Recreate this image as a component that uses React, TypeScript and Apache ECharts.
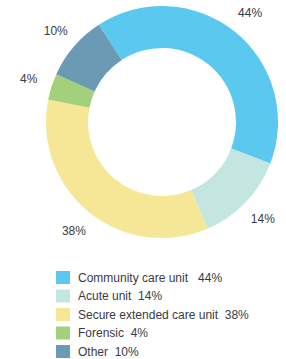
import React, { useEffect, useRef } from "react";
import * as echarts from "echarts";

const categories = [
  "Community care unit",
  "Acute unit",
  "Secure extended care unit",
  "Forensic",
  "Other",
];
const values = [44, 14, 38, 4, 10];
const colors = ["#5bc8ef", "#c4e6e0", "#f5e796", "#a3d07a", "#6b9ab5"];
const legendGaps = ["   ", "  ", "  ", "  ", "  "];

export default function App() {
  const ref = useRef<HTMLDivElement>(null);
  useEffect(() => {
    if (!ref.current) return;
    const chart = echarts.init(ref.current, null, { renderer: "svg" });
    const data = categories.map((name, i) => ({
      name,
      value: values[i],
      itemStyle: { color: colors[i] },
    }));
    chart.setOption({
      animation: false,
      textStyle: { fontFamily: "'Liberation Sans', Arial, sans-serif" },
      legend: {
        orient: "vertical",
        left: 56,
        top: 271,
        height: 88,
        padding: 0,
        itemWidth: 14,
        itemHeight: 13,
        itemGap: 5.5,
        icon: "rect",
        selectedMode: false,
        data: categories,
        formatter: (name: string) => {
          const i = categories.indexOf(name);
          return `${name}${legendGaps[i]}${values[i]}%`;
        },
        textStyle: {
          fontSize: 12,
          color: "#3a3a46",
          padding: [0, 0, 0, 3],
        },
      },
      series: [
        {
          type: "pie",
          center: [162, 122],
          radius: [74, 116],
          startAngle: 123,
          clockwise: true,
          silent: true,
          label: { show: false },
          labelLine: { show: false },
          data,
        },
        {
          type: "pie",
          center: [162, 122],
          radius: [127, 147],
          startAngle: 123,
          clockwise: true,
          silent: true,
          itemStyle: { color: "transparent" },
          label: {
            show: true,
            position: "inside",
            formatter: "{c}%",
            fontSize: 12,
            color: "#3a3a46",
          },
          labelLine: { show: false },
          data: categories.map((name, i) => ({
            name,
            value: values[i],
            itemStyle: { color: "transparent" },
          })),
        },
      ],
    });
    return () => chart.dispose();
  }, []);
  return (
    <div
      ref={ref}
      style={{ position: "absolute", left: 0, top: 0, width: 286, height: 359 }}
    />
  );
}
